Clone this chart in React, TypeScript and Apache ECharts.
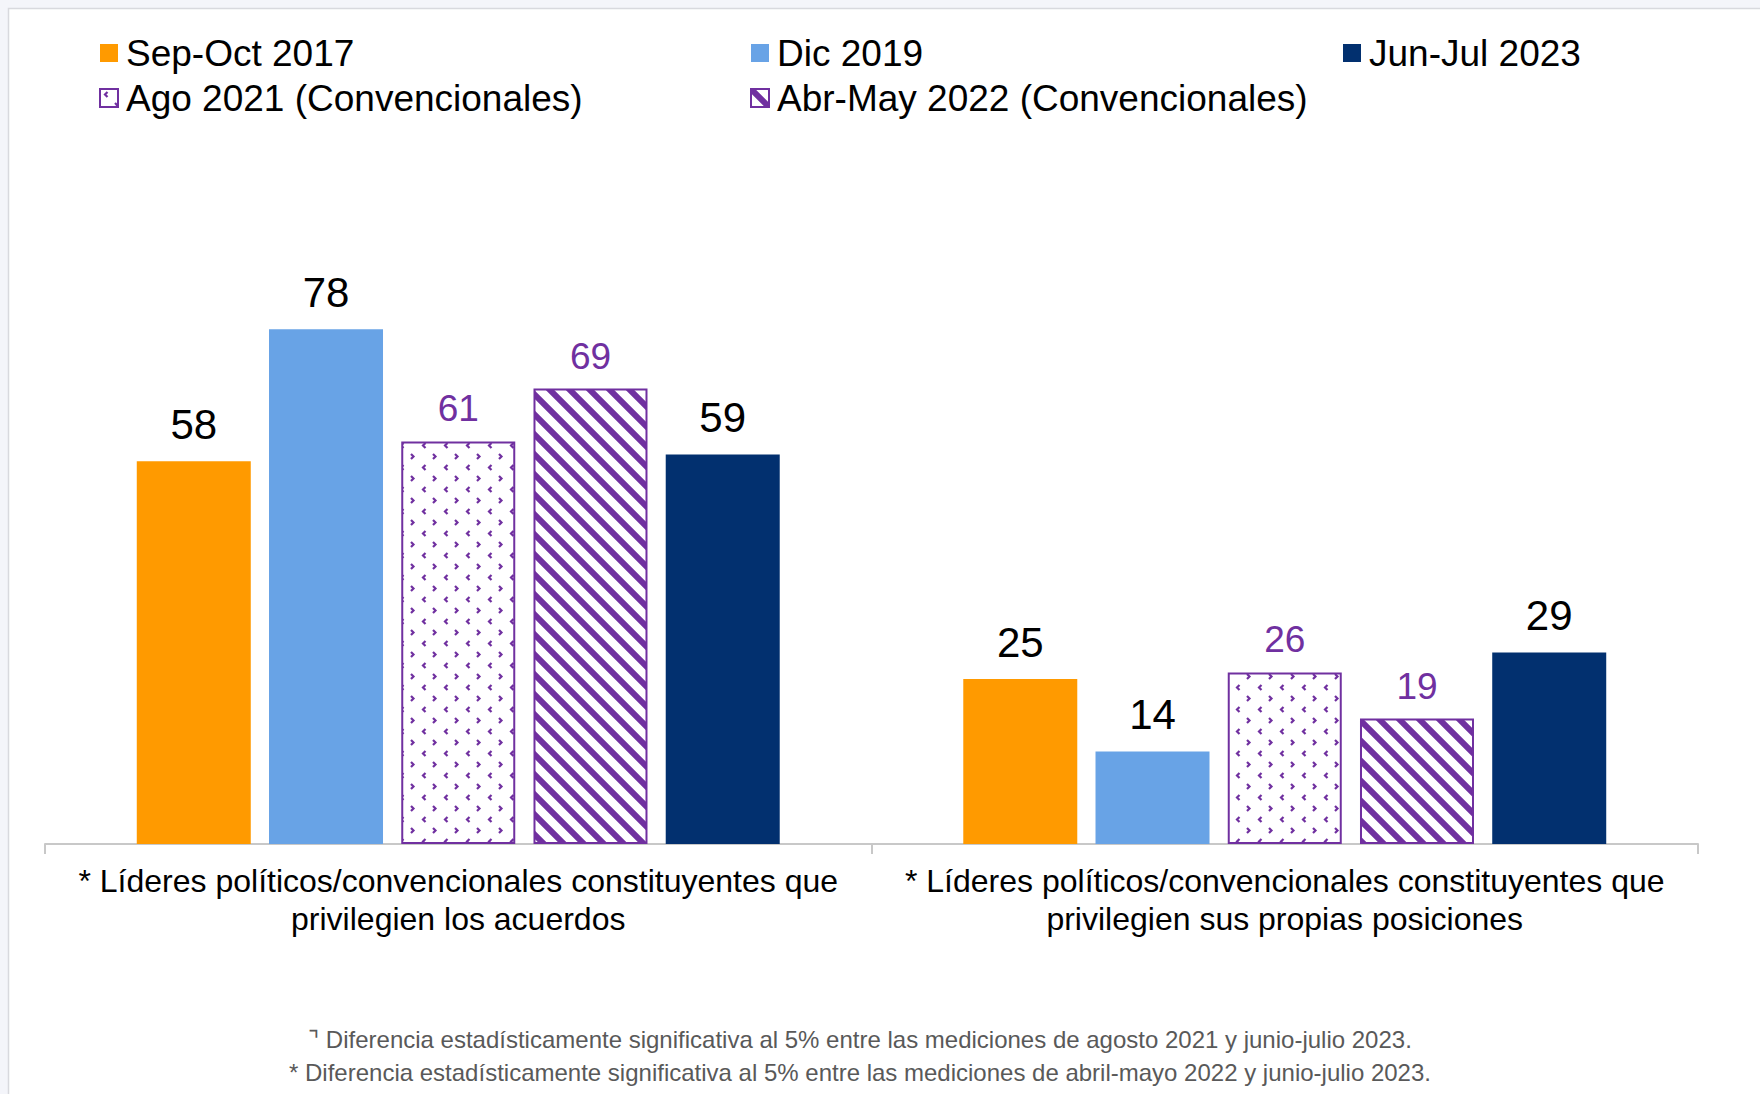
import React, { useEffect, useRef } from "react";
import * as echarts from "echarts";

const categories = [
  "* Líderes políticos/convencionales constituyentes que\nprivilegien los acuerdos",
  "* Líderes políticos/convencionales constituyentes que\nprivilegien sus propias posiciones",
];
const seriesNames = [
  "Sep-Oct 2017",
  "Dic 2019",
  "Ago 2021 (Convencionales)",
  "Abr-May 2022 (Convencionales)",
  "Jun-Jul 2023",
];
const sepOct2017 = [58, 25];
const dic2019 = [78, 14];
const ago2021 = [61, 26];
const abrMay2022 = [69, 19];
const junJul2023 = [59, 29];
const footnotes = [
  "⌝ Diferencia estadísticamente significativa al 5% entre las mediciones de agosto 2021 y junio-julio 2023.",
  "* Diferencia estadísticamente significativa al 5% entre las mediciones de abril-mayo 2022 y junio-julio 2023.",
];

const FONT = "'Liberation Sans', Arial, sans-serif";
const PURPLE = "#7030A0";

const svgUrl = (s: string) => "data:image/svg+xml;charset=utf-8," + encodeURIComponent(s);
const STRIPES = svgUrl(
  `<svg xmlns='http://www.w3.org/2000/svg' width='20' height='20'><rect width='20' height='20' fill='#ffffff'/><path d='M-5,-5L25,25M-5,15L5,25M15,-5L25,5' stroke='${PURPLE}' stroke-width='6'/></svg>`
);
const DOTS = svgUrl(
  `<svg xmlns='http://www.w3.org/2000/svg' width='22' height='22'><rect width='22' height='22' fill='#ffffff'/><path d='M7.5,3L5,5.5L7.5,8M15,14L17.5,16.5L15,19' fill='none' stroke='${PURPLE}' stroke-width='2.2'/></svg>`
);

export default function App() {
  const ref = useRef<HTMLDivElement>(null);
  useEffect(() => {
    if (!ref.current) return;
    const chart = echarts.init(ref.current, null, { renderer: "svg" });
    const blackLabel = {
      show: true,
      position: "top",
      distance: 16,
      fontSize: 42,
      color: "#000",
      fontFamily: FONT,
    };
    const purpleLabel = { ...blackLabel, distance: 14, fontSize: 37, color: PURPLE };
    const mk = (name: string, data: number[], itemStyle: any, label: any) => ({
      name,
      type: "bar",
      data,
      barWidth: 114,
      barGap: "16%",
      itemStyle,
      label,
      emphasis: { disabled: true },
    });
    const legendBase = {
      orient: "vertical",
      top: 33,
      padding: 0,
      itemWidth: 18,
      itemHeight: 18,
      itemGap: 5,
      icon: "rect",
      selectedMode: false,
      textStyle: {
        fontSize: 37,
        lineHeight: 40,
        color: "#000",
        fontFamily: FONT,
        padding: [0, 0, 0, 3],
      },
    };
    chart.setOption({
      animation: false,
      backgroundColor: "transparent",
      textStyle: { fontFamily: FONT },
      legend: [
        { ...legendBase, left: 99, data: [seriesNames[0], seriesNames[2]] },
        { ...legendBase, left: 750, data: [seriesNames[1], seriesNames[3]] },
        { ...legendBase, left: 1343, data: [seriesNames[4]] },
      ],
      grid: { left: 45, right: 62, top: 184, bottom: 250, containLabel: false },
      xAxis: {
        type: "category",
        data: categories,
        axisLine: { lineStyle: { color: "#c8c8c8", width: 2 } },
        axisTick: { show: true, length: 10, lineStyle: { color: "#c8c8c8", width: 2 } },
        axisLabel: {
          interval: 0,
          margin: 18,
          fontSize: 32,
          lineHeight: 38,
          color: "#000",
          fontFamily: FONT,
        },
      },
      yAxis: { type: "value", min: 0, max: 100, show: false },
      series: [
        mk(seriesNames[0], sepOct2017, { color: "#FF9A00" }, blackLabel),
        mk(seriesNames[1], dic2019, { color: "#68A3E6" }, blackLabel),
        mk(
          seriesNames[2],
          ago2021,
          {
            color: { image: DOTS, repeat: "repeat", imageWidth: 22, imageHeight: 22 },
            borderColor: PURPLE,
            borderWidth: 2,
          },
          purpleLabel
        ),
        mk(
          seriesNames[3],
          abrMay2022,
          {
            color: { image: STRIPES, repeat: "repeat", imageWidth: 20, imageHeight: 20 },
            borderColor: PURPLE,
            borderWidth: 2,
          },
          purpleLabel
        ),
        mk(seriesNames[4], junJul2023, { color: "#02306F" }, blackLabel),
      ],
      graphic: [
        {
          type: "rect",
          z: -10,
          silent: true,
          shape: { x: 8.5, y: 8.5, width: 1800, height: 1200 },
          style: { fill: "#ffffff", stroke: "#d8d9de", lineWidth: 1.5 },
        },
        {
          type: "text",
          x: 860,
          y: 1039,
          style: {
            text: footnotes[0],
            fontSize: 24,
            fill: "#595959",
            fontFamily: FONT,
            align: "center",
            verticalAlign: "middle",
          },
        },
        {
          type: "text",
          x: 860,
          y: 1072,
          style: {
            text: footnotes[1],
            fontSize: 24,
            fill: "#595959",
            fontFamily: FONT,
            align: "center",
            verticalAlign: "middle",
          },
        },
      ],
    });
    return () => chart.dispose();
  }, []);
  return (
    <div
      style={{
        position: "fixed",
        left: 0,
        top: 0,
        width: 1760,
        height: 1094,
        background: "#f4f5fa",
      }}
    >
      <div ref={ref} style={{ width: 1760, height: 1094 }} />
    </div>
  );
}
